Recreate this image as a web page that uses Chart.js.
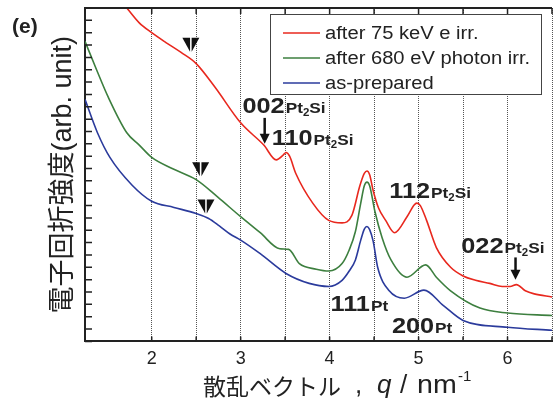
<!DOCTYPE html>
<html>
<head>
<meta charset="utf-8">
<script src="https://cdn.jsdelivr.net/npm/chart.js"></script>
<style>
  html, body { margin: 0; padding: 0; background: #fff; }
  #wrap { width: 559px; height: 401px; }
</style>
</head>
<body>
<div id="wrap"><canvas id="chart"></canvas></div>
<script>
// DATA (q in nm^-1, intensity in arb. units)
const qRed = [1.60, 1.72, 1.86, 2.00, 2.16, 2.33, 2.50, 2.71, 3.00, 3.26, 3.40, 3.48, 3.51, 3.55, 3.62, 3.81, 3.99, 4.14, 4.25, 4.34, 4.39, 4.42, 4.45, 4.49, 4.55, 4.63, 4.73, 4.87, 4.95, 4.98, 5.02, 5.09, 5.20, 5.36, 5.50, 5.64, 5.80, 5.94, 6.03, 6.10, 6.20, 6.30, 6.50];
const red  = [28.0, 27.0, 25.8, 25.0, 24.2, 23.4, 22.5, 20.6, 17.7, 15.9, 14.7, 15.1, 15.3, 15.0, 13.6, 11.2, 9.8, 9.6, 10.2, 12.6, 13.6, 13.8, 13.5, 12.2, 10.8, 9.8, 8.8, 10.1, 11.05, 11.2, 11.0, 9.8, 7.6, 6.0, 5.3, 4.95, 4.7, 4.45, 4.45, 4.6, 4.1, 3.85, 3.6];

const qGreen = [1.25, 1.38, 1.51, 1.72, 1.86, 2.00, 2.23, 2.50, 2.74, 3.00, 3.22, 3.44, 3.54, 3.66, 3.85, 3.99, 4.14, 4.22, 4.29, 4.35, 4.39, 4.42, 4.45, 4.51, 4.59, 4.69, 4.87, 5.08, 5.20, 5.36, 5.69, 6.00, 6.50];
const green  = [24.3, 22.0, 19.8, 16.9, 15.9, 14.9, 14.0, 13.1, 11.7, 10.1, 8.8, 7.5, 7.45, 6.3, 5.85, 5.7, 6.3, 7.4, 8.9, 11.2, 12.6, 12.9, 12.6, 10.5, 8.4, 6.6, 5.2, 6.2, 5.2, 4.1, 2.7, 2.3, 2.1];

const qBlue = [1.25, 1.39, 1.53, 1.78, 2.00, 2.25, 2.50, 2.64, 2.76, 2.88, 3.00, 3.22, 3.51, 3.77, 3.99, 4.14, 4.22, 4.29, 4.35, 4.39, 4.42, 4.45, 4.49, 4.54, 4.67, 4.84, 5.06, 5.28, 5.50, 6.00, 6.50];
const blue  = [19.6, 16.9, 14.9, 12.65, 11.35, 10.85, 10.35, 9.95, 9.35, 8.7, 8.2, 7.1, 5.5, 4.7, 4.45, 4.95, 5.7, 6.6, 8.2, 9.1, 9.3, 9.05, 8.1, 6.0, 4.1, 3.5, 4.15, 2.9, 1.7, 1.15, 0.9];

const seriesNames = ['after 75 keV e irr.', 'after 680 eV photon irr.', 'as-prepared'];
const xTicks = [2, 3, 4, 5, 6];

// peak labels: [q, intensity, index, phase]
const peakLabels = [
  [3.02, 18.5, '002', 'Pt2Si'],
  [3.35, 15.9, '110', 'Pt2Si'],
  [4.67, 11.6, '112', 'Pt2Si'],
  [5.48, 7.15, '022', 'Pt2Si'],
  [4.01, 2.5, '111', 'Pt'],
  [4.70, 0.72, '200', 'Pt']
];
// down arrows: [q, top, bottom]
const arrows = [
  [3.27, 18.1, 16.0],
  [6.09, 6.8, 5.0]
];
// arrowhead markers: [q, top]
const markers = [
  [2.44, 24.6],
  [2.55, 14.5],
  [2.61, 11.5]
];

const pts = (xs, ys) => xs.map((x, i) => ({x: x, y: ys[i]}));
const FONT = '"Liberation Sans", Arial, sans-serif';
const JFONT = '"Liberation Sans", "Noto Sans CJK JP", sans-serif';

function stretch(ctx, text, x, y, sx) {
  ctx.save();
  ctx.translate(x, y);
  ctx.scale(sx, 1);
  ctx.fillText(text, 0, 0);
  ctx.restore();
  return ctx.measureText(text).width * sx;
}

const overlay = {
  id: 'overlay',
  afterDraw(chart) {
    const ctx = chart.ctx;
    const a = chart.chartArea;
    const x = chart.scales.x, y = chart.scales.y;
    ctx.save();
    ctx.strokeStyle = '#222';
    ctx.fillStyle = '#222';

    // top frame line
    ctx.lineWidth = 2;
    ctx.beginPath();
    ctx.moveTo(a.left - 1, a.top);
    ctx.lineTo(a.right, a.top);
    ctx.stroke();

    // inside ticks
    ctx.lineWidth = 1.5;
    ctx.beginPath();
    y.ticks.forEach(t => {
      const py = y.getPixelForValue(t.value);
      ctx.moveTo(a.left, py);
      ctx.lineTo(a.left + 7, py);
    });
    x.ticks.forEach(t => {
      const px = x.getPixelForValue(t.value);
      ctx.moveTo(px, a.bottom);
      ctx.lineTo(px, a.bottom - 5);
      ctx.moveTo(px, a.top);
      ctx.lineTo(px, a.top + 6);
    });
    ctx.stroke();

    // legend
    const lx = a.right - 282, ly = a.top + 6, lw = 271, lh = 80;
    ctx.fillStyle = '#fff';
    ctx.fillRect(lx, ly, lw, lh);
    ctx.strokeStyle = '#444';
    ctx.lineWidth = 1;
    ctx.strokeRect(lx + 0.5, ly + 0.5, lw, lh);
    chart.data.datasets.forEach((ds, i) => {
      const ry = ly + 19 + i * 25;
      ctx.strokeStyle = ds.borderColor;
      ctx.lineWidth = 1.5;
      ctx.beginPath();
      ctx.moveTo(lx + 13, ry);
      ctx.lineTo(lx + 50, ry);
      ctx.stroke();
      ctx.fillStyle = '#222';
      ctx.font = '18px ' + FONT;
      ctx.textBaseline = 'alphabetic';
      stretch(ctx, ds.label, lx + 55, ry + 6, 1.12);
    });

    // peak labels
    ctx.fillStyle = '#222';
    ctx.textBaseline = 'alphabetic';
    peakLabels.forEach(([q, v, idx, phase]) => {
      let px = x.getPixelForValue(q);
      const py = y.getPixelForValue(v);
      ctx.font = 'bold 22px ' + FONT;
      px += stretch(ctx, idx, px, py, 1.15) + 1;
      phase.match(/[A-Za-z]+|\d+/g).forEach(p => {
        if (/\d/.test(p)) {
          ctx.font = 'bold 10px ' + FONT;
          px += stretch(ctx, p, px, py + 3, 1.15);
        } else {
          ctx.font = 'bold 15px ' + FONT;
          px += stretch(ctx, p, px, py, 1.15);
        }
      });
    });

    // down arrows
    arrows.forEach(([q, v1, v2]) => {
      const px = x.getPixelForValue(q);
      const p1 = y.getPixelForValue(v1), p2 = y.getPixelForValue(v2);
      ctx.strokeStyle = '#111';
      ctx.lineWidth = 2.5;
      ctx.beginPath();
      ctx.moveTo(px, p1);
      ctx.lineTo(px, p2 - 8);
      ctx.stroke();
      ctx.fillStyle = '#111';
      ctx.beginPath();
      ctx.moveTo(px - 5, p2 - 10);
      ctx.lineTo(px + 5, p2 - 10);
      ctx.lineTo(px, p2);
      ctx.closePath();
      ctx.fill();
    });

    // triangle markers (split in two halves)
    markers.forEach(([q, v]) => {
      const px = x.getPixelForValue(q);
      const py = y.getPixelForValue(v);
      ctx.fillStyle = '#111';
      ctx.beginPath();
      ctx.moveTo(px - 8.5, py);
      ctx.lineTo(px - 0.8, py);
      ctx.lineTo(px - 0.8, py + 14);
      ctx.closePath();
      ctx.fill();
      ctx.beginPath();
      ctx.moveTo(px + 0.8, py);
      ctx.lineTo(px + 8.5, py);
      ctx.lineTo(px + 0.8, py + 14);
      ctx.closePath();
      ctx.fill();
    });

    // panel letter
    ctx.fillStyle = '#222';
    ctx.font = 'bold 21px ' + FONT;
    ctx.textAlign = 'left';
    ctx.fillText('(e)', 12, 33);

    // y title
    ctx.save();
    ctx.translate(64, (a.top + a.bottom) / 2);
    ctx.rotate(-Math.PI / 2);
    ctx.textAlign = 'center';
    ctx.textBaseline = 'middle';
    ctx.font = '27px ' + JFONT;
    ctx.fillText('電子回折強度(arb. unit)', 0, 0);
    ctx.restore();

    // x title
    ctx.textAlign = 'left';
    ctx.textBaseline = 'alphabetic';
    ctx.font = '23px "Noto Sans CJK JP", sans-serif';
    ctx.fillText('散乱ベクトル', 203, 395);
    ctx.font = '26px ' + FONT;
    ctx.fillText(',', 355, 393);
    ctx.font = 'italic 26px ' + FONT;
    ctx.fillText('q', 377, 393);
    ctx.font = '26px ' + FONT;
    ctx.fillText('/', 400, 393);
    stretch(ctx, 'nm', 417, 393, 1.1);
    ctx.font = '15px ' + FONT;
    ctx.fillText('-1', 458, 381);

    ctx.restore();
  }
};

new Chart(document.getElementById('chart'), {
  type: 'line',
  data: {
    datasets: [
      {label: seriesNames[0], data: pts(qRed, red), borderColor: '#e8281e'},
      {label: seriesNames[1], data: pts(qGreen, green), borderColor: '#3d7f3f'},
      {label: seriesNames[2], data: pts(qBlue, blue), borderColor: '#2b3b9c'}
    ].map(d => Object.assign(d, {borderWidth: 1.6, pointRadius: 0, fill: false, cubicInterpolationMode: 'monotone'}))
  },
  options: {
    responsive: true,
    maintainAspectRatio: false,
    animation: false,
    devicePixelRatio: 1,
    layout: {padding: {left: 85, top: 8, right: 0, bottom: 24}},
    plugins: {legend: {display: false}, tooltip: {enabled: false}},
    scales: {
      x: {
        type: 'linear',
        min: 1.25,
        max: 6.5,
        ticks: {
          stepSize: 0.5,
          autoSkip: false,
          maxRotation: 0,
          padding: 7,
          color: '#222',
          font: {family: FONT, size: 18},
          callback: v => xTicks.includes(v) ? String(v) : ''
        },
        grid: {color: '#555', lineWidth: 1, drawTicks: false},
        border: {color: '#222', width: 2, dash: [1, 1]}
      },
      y: {
        min: 0,
        max: 27,
        ticks: {display: false, stepSize: 1},
        grid: {display: false, drawTicks: false},
        border: {color: '#222', width: 2}
      }
    }
  },
  plugins: [overlay]
});
</script>
</body>
</html>
